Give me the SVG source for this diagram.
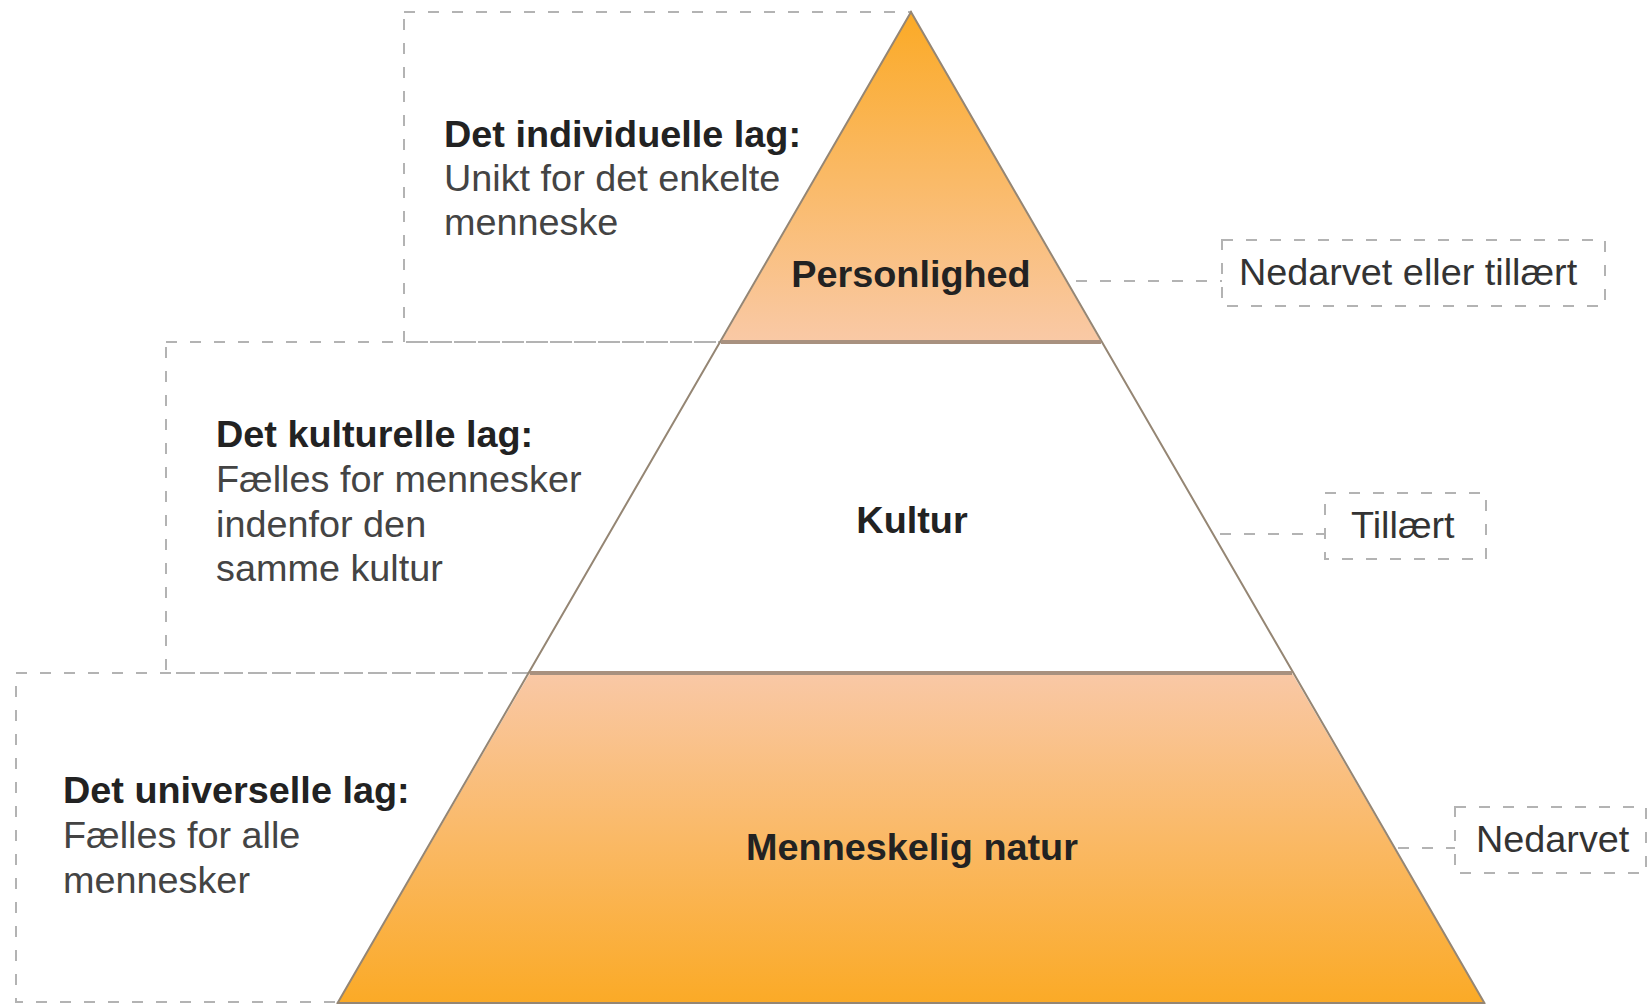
<svg xmlns="http://www.w3.org/2000/svg" width="1650" height="1004" viewBox="0 0 1650 1004">
  <defs>
    <linearGradient id="gTop" x1="0" y1="0" x2="0" y2="1">
      <stop offset="0" stop-color="#FBAA26"/>
      <stop offset="1" stop-color="#F9C9A6"/>
    </linearGradient>
    <linearGradient id="gBot" x1="0" y1="0" x2="0" y2="1">
      <stop offset="0" stop-color="#F9C8A6"/>
      <stop offset="1" stop-color="#FBAA26"/>
    </linearGradient>
  </defs>
  <style>
    .dash { fill: none; stroke: #b3b3b3; stroke-width: 2; stroke-dasharray: 11 13; }
    .outline { stroke: #958674; stroke-width: 2; }
    .sep { stroke: #a8917f; stroke-width: 4; }
    .b { font-family: "Liberation Sans", Arial, sans-serif; font-weight: bold; font-size: 37.8px; fill: #222; }
    .r { font-family: "Liberation Sans", Arial, sans-serif; font-size: 37.8px; fill: #444; }
    .lbl { font-family: "Liberation Sans", Arial, sans-serif; font-size: 37.8px; fill: #333; }
    .c { text-anchor: middle; }
  </style>
  <rect width="1650" height="1004" fill="#ffffff"/>

  <!-- left description boxes (drawn behind pyramid) -->
  <g id="desc-individual">
    <rect class="dash" x="404" y="12" width="507" height="330"/>
    <text class="b" x="444" y="147">Det individuelle lag:</text>
    <text class="r" x="444" y="191">Unikt for det enkelte</text>
    <text class="r" x="444" y="235">menneske</text>
  </g>
  <g id="desc-cultural">
    <rect class="dash" x="166" y="342" width="745" height="331"/>
    <text class="b" x="216" y="447">Det kulturelle lag:</text>
    <text class="r" x="216" y="492">Fælles for mennesker</text>
    <text class="r" x="216" y="537">indenfor den</text>
    <text class="r" x="216" y="581">samme kultur</text>
  </g>
  <g id="desc-universal">
    <rect class="dash" x="16" y="673" width="895" height="329"/>
    <text class="b" x="63" y="803">Det universelle lag:</text>
    <text class="r" x="63" y="848">Fælles for alle</text>
    <text class="r" x="63" y="893">mennesker</text>
  </g>

  <!-- pyramid layers -->
  <g id="layer-personlighed">
    <polygon points="911,12 721,342 1101,342" fill="url(#gTop)"/>
    <text class="b c" x="911" y="287">Personlighed</text>
  </g>
  <g id="layer-kultur">
    <polygon points="721,342 1101,342 1292,673 530,673" fill="#ffffff"/>
    <text class="b c" x="912" y="533">Kultur</text>
  </g>
  <g id="layer-natur">
    <polygon points="530,673 1292,673 1485,1004 337,1004" fill="url(#gBot)"/>
    <text class="b c" x="912" y="860">Menneskelig natur</text>
  </g>
  <g id="pyramid-outline">
    <polyline class="outline" fill="none" points="337,1004 911,12 1485,1004"/>
    <line class="outline" x1="337" y1="1003" x2="1485" y2="1003"/>
    <line class="sep" x1="721" y1="342" x2="1101" y2="342"/>
    <line class="sep" x1="530" y1="673" x2="1292" y2="673"/>
  </g>

  <!-- right label boxes -->
  <g id="label-nedarvet-eller-tillaert">
    <rect class="dash" x="1222" y="240" width="383" height="66"/>
    <text class="lbl" x="1239" y="285">Nedarvet eller tillært</text>
  </g>
  <g id="label-tillaert">
    <rect class="dash" x="1325" y="493" width="161" height="66"/>
    <text class="lbl" x="1351" y="538">Tillært</text>
  </g>
  <g id="label-nedarvet">
    <rect class="dash" x="1455" y="807" width="191" height="66"/>
    <text class="lbl" x="1476" y="852">Nedarvet</text>
  </g>

  <!-- connectors -->
  <g id="connectors">
    <line class="dash" x1="1076" y1="281" x2="1222" y2="281"/>
    <line class="dash" x1="1220" y1="534" x2="1325" y2="534"/>
    <line class="dash" x1="1398" y1="848" x2="1455" y2="848"/>
  </g>
</svg>
